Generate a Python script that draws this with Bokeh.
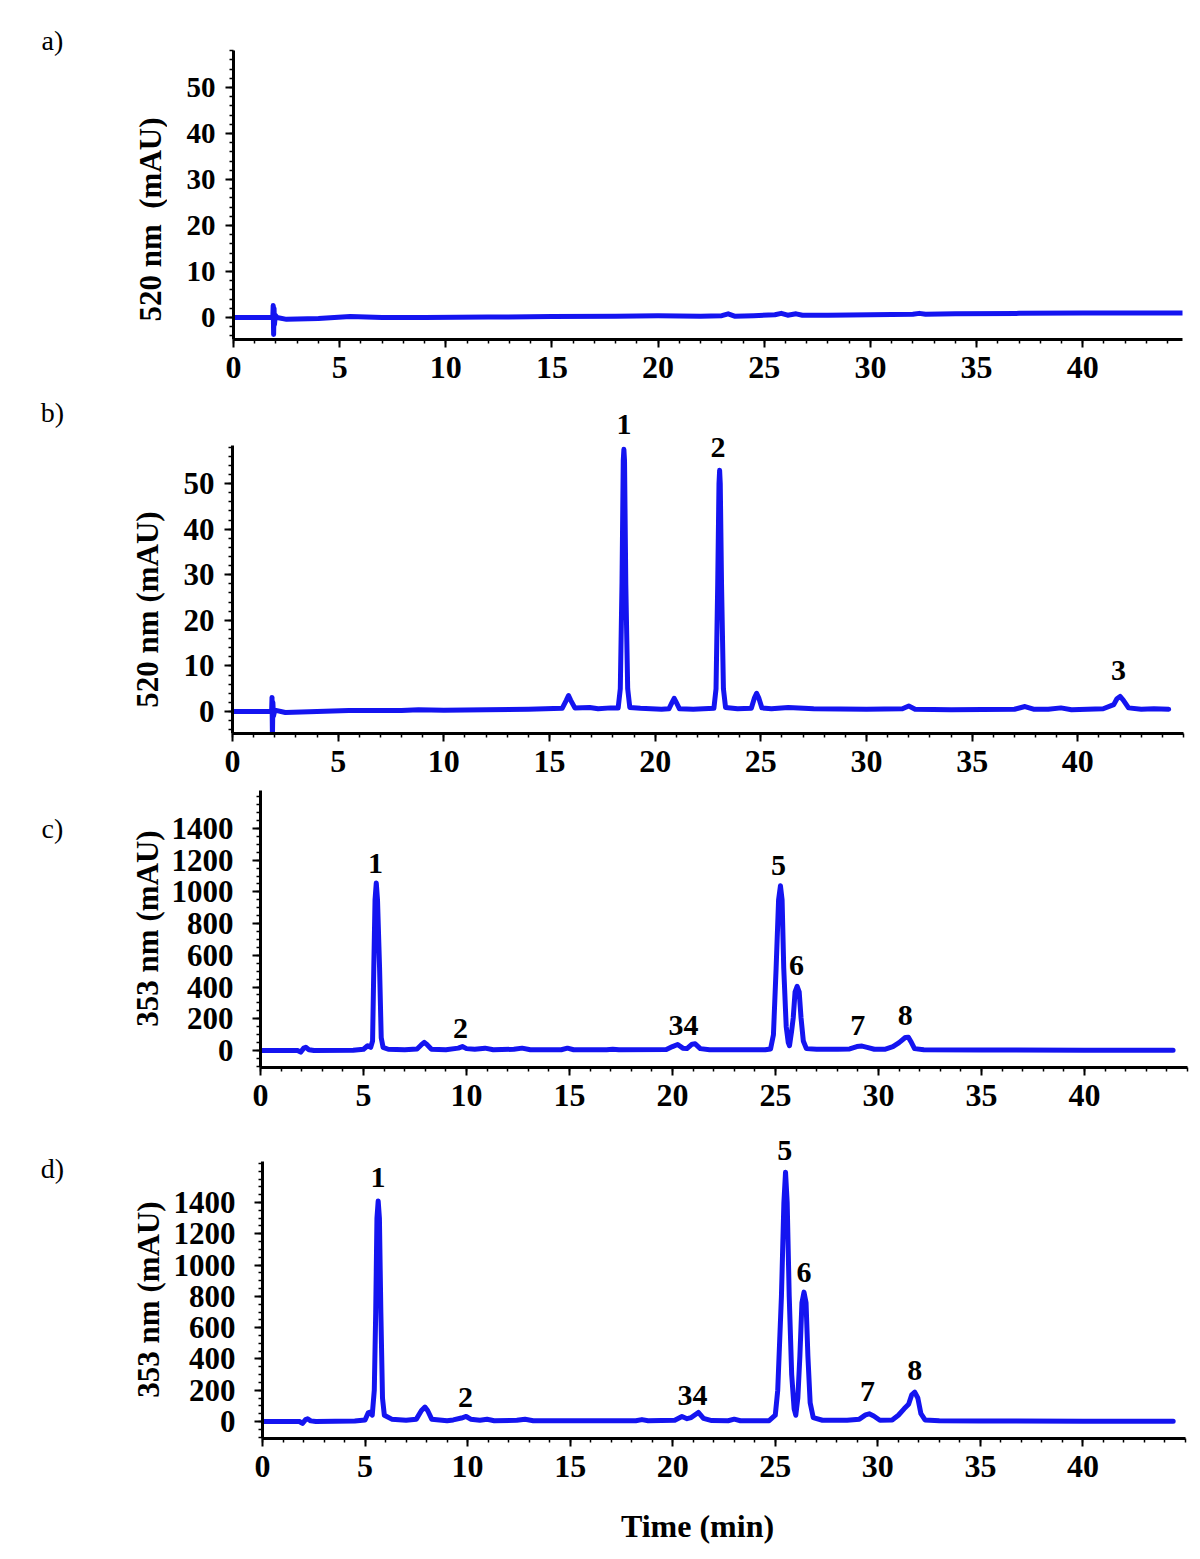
from bokeh.plotting import figure
from bokeh.layouts import column, row
from bokeh.models import Range1d, FixedTicker, Label
from bokeh.embed import file_html
from bokeh.resources import INLINE

# ---------------- data ----------------
# a) 520 nm, blank
a_time = [0.0, 1.80, 1.85, 1.87, 1.89, 1.91, 1.93, 1.97, 2.05, 2.5, 3.0, 4.0, 5.5, 7.0, 9.0, 12.0,
          15.0, 18.0, 20.0, 22.0, 23.0, 23.3, 23.6, 24.5, 25.5, 25.8, 26.1, 26.5, 26.8, 28.0, 30.0,
          32.0, 32.3, 32.6, 34.0, 37.0, 40.0, 42.0, 44.7]
a_abs = [0.0, 0.0, 0.0, 2.6, -3.7, 2.0, -1.5, 0.5, 0.0, -0.4, -0.3, -0.2, 0.2, 0.0, 0.0, 0.1,
         0.2, 0.3, 0.4, 0.3, 0.4, 0.8, 0.3, 0.4, 0.6, 0.9, 0.5, 0.8, 0.5, 0.5, 0.6,
         0.7, 0.9, 0.7, 0.8, 0.9, 1.0, 1.0, 1.0]

# b) 520 nm, sample
b_time = [0.0, 1.85, 1.87, 1.89, 1.91, 1.94, 2.0, 2.5, 4.0, 5.5, 8.0, 8.8, 10.0, 12.0, 14.0,
          15.6, 15.8, 15.9, 16.0, 16.2, 16.9, 17.3, 17.9,
          18.25, 18.35, 18.43, 18.49, 18.52, 18.55, 18.61, 18.70, 18.80, 19.3,
          20.3, 20.65, 20.8, 20.9, 21.0, 21.15, 21.8,
          22.78, 22.88, 22.96, 23.02, 23.05, 23.08, 23.14, 23.23, 23.33, 23.9,
          24.55, 24.7, 24.8, 24.9, 25.05, 25.5, 26.3, 27.5, 30.0, 31.7, 32.0, 32.3,
          34.0, 37.0, 37.5, 37.9, 38.6, 39.2, 39.7, 41.2, 41.7, 41.85, 42.0, 42.15, 42.4, 43.0, 43.6, 44.3]
b_abs = [0.0, 0.0, 3.1, -6.0, 2.0, -1.0, 0.3, -0.2, 0.0, 0.2, 0.2, 0.4, 0.3, 0.4, 0.5,
         0.7, 2.5, 3.5, 2.5, 0.8, 0.9, 0.6, 0.8,
         0.8, 5.0, 28.0, 55.0, 57.5, 55.0, 28.0, 5.0, 0.9, 0.7,
         0.5, 0.6, 2.0, 2.9, 2.0, 0.6, 0.5,
         0.7, 5.0, 28.0, 50.0, 52.9, 50.0, 28.0, 5.0, 0.9, 0.6,
         0.7, 3.0, 4.0, 3.0, 0.8, 0.6, 0.9, 0.6, 0.5, 0.6, 1.2, 0.5,
         0.4, 0.5, 1.1, 0.5, 0.5, 0.8, 0.4, 0.6, 1.5, 2.8, 3.3, 2.5, 0.8, 0.5, 0.6, 0.5]

# c) 353 nm, standard
c_time = [0.0, 1.8, 1.95, 2.1, 2.2, 2.35, 2.6, 4.5, 5.0, 5.2, 5.35, 5.44, 5.50, 5.56, 5.62,
          5.68, 5.78, 5.86, 5.95, 6.2, 7.0, 7.6, 7.8, 7.95, 8.1, 8.3, 9.0, 9.6, 9.8, 10.0,
          10.4, 10.9, 11.3, 12.3, 12.7, 13.1, 14.6, 14.9, 15.2, 16.8, 17.1, 17.4, 19.7, 20.0,
          20.25, 20.5, 20.7, 20.95, 21.1, 21.35, 21.8, 24.5, 24.76, 24.9, 25.03, 25.15, 25.24,
          25.32, 25.40, 25.52, 25.62, 25.68, 25.78, 25.86, 25.95, 26.05, 26.15, 26.24, 26.35,
          26.5, 27.0, 28.0, 28.6, 28.95, 29.2, 29.45, 29.8, 30.3, 30.7, 31.0, 31.3, 31.45,
          31.6, 31.75, 32.2, 35.0, 40.0, 44.3]
c_abs = [0, 0, -10, 15, 20, 5, 0, 2, 8, 30, 20, 60, 520, 950, 1056,
         950, 520, 80, 20, 8, 5, 10, 35, 52, 35, 8, 5, 15, 25, 12,
         8, 15, 5, 8, 15, 5, 5, 15, 5, 5, 8, 5, 6, 25,
         38, 15, 12, 40, 42, 12, 5, 5, 10, 100, 520, 950, 1038,
         950, 520, 150, 50, 30, 120, 205, 370, 405, 370, 205, 60,
         12, 8, 8, 10, 25, 28, 20, 8, 8, 25, 50, 82, 84,
         50, 12, 5, 3, 2, 2]

# d) 353 nm, sample
d_time = [0.0, 1.8, 1.95, 2.1, 2.2, 2.35, 2.6, 4.5, 5.0, 5.15, 5.25, 5.35, 5.45, 5.52, 5.58,
          5.64, 5.70, 5.77, 5.85, 5.94, 6.3, 7.0, 7.5, 7.75, 7.92, 8.05, 8.25, 9.0, 9.3, 9.7,
          9.93, 10.15, 10.6, 10.95, 11.3, 12.4, 12.8, 13.2, 15.0, 18.2, 18.5, 18.8, 20.1, 20.45,
          20.7, 20.9, 21.25, 21.5, 21.9, 22.7, 23.0, 23.3, 24.7, 25.0, 25.12, 25.3, 25.42, 25.5,
          25.58, 25.68, 25.8, 25.92, 26.0, 26.1, 26.2, 26.3, 26.4, 26.5, 26.59, 26.7, 26.85,
          27.3, 28.5, 29.1, 29.4, 29.58, 29.8, 30.1, 30.7, 31.0, 31.28, 31.5, 31.65, 31.8,
          31.95, 32.1, 32.3, 33.0, 35.0, 40.0, 44.4]
d_abs = [0, 0, -12, 12, 17, 4, 0, 3, 10, 55, 60, 40, 200, 700, 1300,
         1410, 1300, 700, 150, 40, 15, 8, 15, 70, 92, 70, 15, 5, 10, 22,
         32, 15, 8, 14, 5, 8, 14, 5, 5, 5, 12, 5, 8, 32,
         18, 25, 58, 20, 6, 5, 15, 5, 5, 40, 200, 800, 1400, 1594,
         1400, 800, 300, 80, 40, 150, 420, 760, 827, 760, 420, 120, 25,
         8, 8, 15, 42, 49, 35, 8, 10, 40, 81, 110, 170, 187,
         150, 50, 10, 5, 3, 2, 2]

# peak labels (text, time, absorbance)
b_peaks = ["1", "2", "3"]
b_peak_t = [18.52, 22.97, 41.93]
b_peak_v = [63.0, 58.0, 9.0]

c_peaks = ["1", "2", "34", "5", "6", "7", "8"]
c_peak_t = [5.58, 9.71, 20.53, 25.15, 26.02, 28.99, 31.3]
c_peak_v = [1179, 139, 158, 1166, 536, 158, 221]

d_peaks = ["1", "2", "34", "5", "6", "7", "8"]
d_peak_t = [5.63, 9.9, 20.96, 25.46, 26.4, 29.5, 31.8]
d_peak_v = [1562, 155, 166, 1733, 955, 194, 326]

x_major = [0, 5, 10, 15, 20, 25, 30, 35, 40]
x_minor = list(range(0, 46))
y520_major = [0, 10, 20, 30, 40, 50]
y520_minor = list(range(-4, 59, 2))
y353_major = [0, 200, 400, 600, 800, 1000, 1200, 1400]
y353_minor = list(range(-100, 1651, 50))

BLUE = "#1414f0"
FONT = "Liberation Serif"
SIDE_W = 167        # width of the left text strip (page x 0 .. 167)
PAGE_RIGHT = 1192
PAGE_BOTTOM = 1555


def text_label(p, x, y, text, size="30px", bold=True, angle=0.0):
    p.add_layout(Label(x=x, y=y, text=text, text_align="center", text_baseline="middle",
                       text_font=FONT, text_font_style="bold" if bold else "normal",
                       text_font_size=size, text_color="black", angle=angle))


def blank(left, right, top, bottom):
    """A figure whose frame is its whole canvas, in page pixel coordinates."""
    p = figure(width=right - left, height=bottom - top, x_range=Range1d(left, right),
               y_range=Range1d(bottom, top), x_axis_type=None, y_axis_type=None,
               output_backend="svg", toolbar_location=None,
               min_border_left=0, min_border_right=0, min_border_top=0, min_border_bottom=0)
    p.outline_line_color = None
    p.xgrid.visible = False
    p.ygrid.visible = False
    return p


def make_panel(top, bottom, fl, fr, ft, fb, xr, yr, ybounds, ymaj, ymin, ytick_size, ystand):
    p = figure(width=PAGE_RIGHT - SIDE_W, height=bottom - top,
               x_range=Range1d(*xr), y_range=Range1d(*yr),
               output_backend="svg", toolbar_location=None,
               min_border_left=fl - SIDE_W, min_border_right=PAGE_RIGHT - fr,
               min_border_top=ft - top, min_border_bottom=bottom - fb)
    p.outline_line_color = None
    p.xgrid.visible = False
    p.ygrid.visible = False
    p.xaxis.ticker = FixedTicker(ticks=x_major, minor_ticks=x_minor)
    p.yaxis.ticker = FixedTicker(ticks=ymaj, minor_ticks=ymin)
    p.yaxis.bounds = ybounds
    for ax in (p.xaxis, p.yaxis):
        ax.axis_line_width = 3
        ax.axis_line_color = "black"
        ax.major_tick_line_width = 2
        ax.minor_tick_line_width = 1.5
        ax.major_tick_out = 8
        ax.major_tick_in = 0
        ax.minor_tick_out = 4
        ax.minor_tick_in = 0
        ax.major_label_text_font = FONT
        ax.major_label_text_font_style = "bold"
        ax.major_label_text_color = "black"
    p.xaxis.major_label_text_font_size = "32px"
    p.yaxis.major_label_text_font_size = ytick_size
    p.xaxis.major_label_standoff = 9
    p.yaxis.major_label_standoff = ystand
    return p


def draw(p, t, v):
    p.line(t, v, line_color=BLUE, line_width=5, line_join="round", line_cap="round")


def peaks(p, names, ts, vs):
    for n, t, v in zip(names, ts, vs):
        text_label(p, t, v, n)


# ---- panel a  (page y 0 .. 396)
pa = make_panel(0, 396, 233, 1182, 50, 339, (0, 44.7), (-4.78, 58.04), (-4.78, 58.04),
                y520_major, y520_minor, "29px", 10)
draw(pa, a_time, a_abs)

# ---- panel b  (page y 396 .. 785); frame reaches above the axis top for the peak labels
pb = make_panel(396, 785, 232, 1183, 406, 733, (0, 45), (-4.82, 66.9), (-4.82, 58.33),
                y520_major, y520_minor, "31px", 10)
draw(pb, b_time, b_abs)
peaks(pb, b_peaks, b_peak_t, b_peak_v)

# ---- panel c  (page y 785 .. 1128)
pc = make_panel(785, 1128, 260, 1187, 790, 1067, (0, 45), (-107, 1639), (-107, 1639),
                y353_major, y353_minor, "31px", 19)
draw(pc, c_time, c_abs)
peaks(pc, c_peaks, c_peak_t, c_peak_v)

# ---- panel d  (page y 1128 .. 1495)
pd = make_panel(1128, 1495, 262, 1185, 1131, 1438, (0, 45), (-108.7, 1854), (-108.7, 1662),
                y353_major, y353_minor, "31px", 19)
draw(pd, d_time, d_abs)
peaks(pd, d_peaks, d_peak_t, d_peak_v)

# ---- x axis title strip (page y 1495 .. 1555)
st = blank(SIDE_W, PAGE_RIGHT, 1495, PAGE_BOTTOM)
text_label(st, 697, 1525, "Time (min)", size="32px")

# ---- left strip: panel letters and y axis titles (page x 0 .. 167)
side = blank(0, SIDE_W, 0, PAGE_BOTTOM)
text_label(side, 52, 40, "a)", size="28px", bold=False)
text_label(side, 52, 412, "b)", size="28px", bold=False)
text_label(side, 52, 828, "c)", size="28px", bold=False)
text_label(side, 52, 1168, "d)", size="28px", bold=False)
text_label(side, 150, 219, "520 nm\u00a0 (mAU)", size="31px", angle=1.5708)
text_label(side, 147, 609, "520 nm (mAU)", size="31px", angle=1.5708)
text_label(side, 147, 928, "353 nm (mAU)", size="31px", angle=1.5708)
text_label(side, 148, 1299, "353 nm (mAU)", size="31px", angle=1.5708)

right = column(row(pa), row(pb), row(pc), row(pd), row(st), spacing=0)
layout = row(column(side), right, spacing=0)
open("out.html", "w").write(file_html(layout, INLINE))
